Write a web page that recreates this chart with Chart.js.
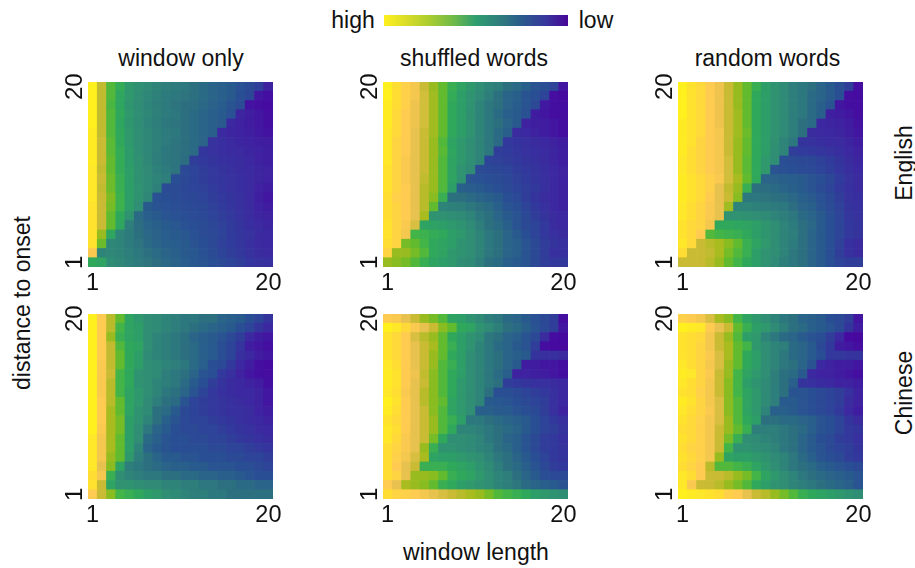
<!DOCTYPE html>
<html>
<head>
<meta charset="utf-8">
<title>heatmaps</title>
<script src="https://cdn.jsdelivr.net/npm/chart.js@4"></script>
<style>
html, body { margin: 0; padding: 0; background: #fff; }
body { width: 915px; height: 568px; position: relative; overflow: hidden; font-family: "Liberation Sans", Arial, sans-serif; color: #111; }
canvas { position: absolute; }
.txt { position: absolute; font-size: 23px; line-height: 26px; white-space: nowrap; transform: translate(-50%, -50%); }
.rot { transform: translate(-50%, -50%) rotate(-90deg); }
#bar { position: absolute; left: 384px; top: 15px; width: 184px; height: 11px; }
</style>
</head>
<body>
<div class="txt" style="left:353px;top:20px">high</div>
<div id="bar"></div>
<div class="txt" style="left:596px;top:20px">low</div>
<div class="txt" style="left:181px;top:58px">window only</div>
<div class="txt" style="left:474px;top:58px">shuffled words</div>
<div class="txt" style="left:767.5px;top:58px">random words</div>
<div class="txt rot" style="left:904px;top:163px">English</div>
<div class="txt rot" style="left:904px;top:393px">Chinese</div>
<div class="txt rot" style="left:22px;top:303px">distance to onset</div>
<div class="txt" style="left:476px;top:552px">window length</div>
<script>
// rows run from distance 20 (top) down to distance 1, columns are window length 1..20
const tickValues = [1, 20];
const englishWindow = [
[100,83,70,65,58,55,52,50,48,47,46,44,42,40,38,36,33,30,26,14],
[100,83,70,63,58,54,51,49,47,46,45,44,42,40,38,36,32,29,10,8],
[100,83,69,63,57,53,50,48,47,45,44,43,41,39,37,34,31,9,7,5],
[100,83,70,64,58,54,51,49,47,46,44,42,40,38,36,33,15,13,10,7],
[100,83,70,63,57,53,50,48,46,45,44,42,40,38,36,16,14,12,10,8],
[99,83,70,64,58,54,51,49,47,46,44,42,40,38,17,15,14,13,11,9],
[99,84,71,64,58,54,51,49,47,45,44,42,40,21,19,17,15,14,13,12],
[99,84,71,65,59,54,51,48,46,45,44,42,23,21,19,18,17,15,14,13],
[99,84,72,65,59,55,51,48,46,45,43,26,24,22,20,19,18,16,14,13],
[98,83,72,65,60,55,52,49,47,45,30,28,26,24,22,20,18,17,15,14],
[98,84,73,66,60,55,52,50,48,32,30,28,26,24,23,21,19,17,15,14],
[98,83,73,66,60,56,52,49,31,31,29,28,27,25,23,21,19,17,14,12],
[98,84,75,67,60,56,51,33,32,31,30,29,28,26,24,22,20,17,13,10],
[97,84,74,67,60,54,36,34,33,32,31,30,29,27,25,23,20,18,14,12],
[97,84,72,64,56,42,38,36,34,33,32,31,30,28,26,24,21,18,15,14],
[97,84,72,63,48,43,40,38,36,35,33,32,31,29,27,25,22,19,17,15],
[97,78,63,50,47,44,41,39,37,36,35,33,31,30,28,25,23,21,18,16],
[97,73,51,50,47,45,42,40,38,37,36,34,32,30,27,25,23,20,17,16],
[91,50,51,50,48,46,44,42,40,38,36,35,33,31,28,26,24,21,18,17],
[64,62,53,51,49,47,45,43,41,39,37,35,34,32,30,28,26,23,21,20]
];
const englishShuffled = [
[100,96,93,90,84,78,72,66,62,58,54,50,48,44,42,38,34,32,28,10],
[100,96,93,90,85,79,72,65,60,56,52,48,44,40,38,34,32,28,6,4],
[99,96,93,89,85,79,72,64,60,56,50,46,44,40,37,34,30,11,8,6],
[99,95,92,89,85,79,72,64,60,55,50,46,42,38,36,33,12,10,8,6],
[99,95,92,89,85,79,72,64,60,56,50,46,44,40,36,14,13,12,10,8],
[98,95,92,88,84,79,72,64,60,56,50,46,42,38,18,16,14,12,10,8],
[98,94,92,88,84,78,70,62,58,54,50,46,42,24,22,20,18,16,14,12],
[98,94,92,88,84,78,71,63,58,54,50,46,26,25,23,21,19,17,15,13],
[98,94,91,88,84,78,70,62,58,54,50,28,27,26,24,22,20,18,15,13],
[97,94,91,88,84,78,70,62,56,52,31,30,29,28,26,24,22,19,16,14],
[97,94,91,88,83,78,70,62,56,34,33,32,31,29,27,25,22,20,16,14],
[97,94,92,88,82,78,70,60,38,37,36,34,32,30,28,26,24,20,16,14],
[96,93,92,88,82,76,66,44,44,42,40,38,36,32,30,26,22,18,16,14],
[96,94,92,88,82,72,50,49,48,46,44,42,38,34,32,28,24,20,16,14],
[96,94,92,88,80,56,55,54,52,50,46,44,40,36,34,30,26,22,18,16],
[97,94,91,86,62,61,60,58,56,52,48,44,42,38,34,30,28,24,18,16],
[97,94,90,68,67,65,64,60,58,54,50,46,44,40,36,32,28,24,20,18],
[96,94,74,72,68,64,62,60,56,54,50,46,44,40,38,34,30,26,22,20],
[94,78,78,74,70,64,62,58,56,54,50,46,44,40,38,34,30,26,20,20],
[78,76,74,70,66,62,60,58,54,52,48,44,42,38,36,34,30,26,24,24]
];
const englishRandom = [
[100,97,95,92,89,84,78,72,66,60,56,52,48,46,44,40,36,32,26,6],
[100,97,95,92,89,84,78,72,64,60,56,52,48,46,42,40,36,32,6,5],
[100,97,95,92,89,84,78,72,64,60,56,52,48,46,42,38,34,10,8,6],
[100,97,95,92,89,84,79,72,64,60,56,52,48,46,42,38,13,12,10,7],
[99,97,95,92,89,84,79,72,64,60,56,52,48,44,42,16,15,14,12,9],
[99,97,95,92,90,84,79,73,64,60,56,52,48,44,18,17,16,15,13,10],
[99,97,94,92,90,84,78,72,64,60,55,50,46,22,21,19,18,17,15,12],
[99,96,94,92,90,84,78,72,64,60,54,50,26,25,24,23,21,19,16,14],
[98,96,94,92,90,85,78,71,64,58,54,32,31,30,29,27,25,22,18,15],
[98,96,94,92,90,85,78,71,64,58,34,33,32,31,30,28,26,23,19,16],
[99,97,95,93,91,85,80,72,64,40,39,38,37,36,34,32,29,25,21,18],
[99,97,95,93,88,83,78,66,44,43,42,40,38,36,34,31,28,24,20,18],
[99,97,95,92,88,84,76,46,46,45,44,43,41,38,36,33,30,26,21,19],
[98,96,94,91,88,79,50,50,49,48,47,46,43,40,38,34,31,27,22,20],
[98,96,94,91,88,56,56,55,54,52,50,48,46,42,40,36,32,28,23,21],
[97,95,94,90,64,64,63,62,60,57,54,50,47,44,41,36,32,28,24,22],
[97,95,92,70,68,67,66,64,60,57,54,50,48,44,40,36,32,28,24,22],
[98,95,84,82,80,76,72,66,62,58,54,50,47,44,40,36,32,27,20,18],
[96,84,84,83,80,74,70,66,60,56,54,50,46,44,40,36,32,26,20,18],
[84,84,84,82,78,72,68,64,60,56,52,48,46,44,40,36,32,28,26,26]
];
const chineseWindow = [
[100,92,82,72,62,58,54,52,50,48,46,46,44,44,40,38,36,32,28,22],
[100,92,82,68,62,60,54,52,50,48,46,44,42,40,38,36,32,28,22,16],
[100,92,78,66,62,60,54,50,48,46,44,40,38,36,34,30,26,16,12,10],
[100,92,83,70,64,62,54,50,48,46,44,42,38,36,32,28,22,12,10,8],
[100,92,83,72,64,60,52,50,48,46,44,42,38,36,32,28,20,16,12,10],
[100,91,83,72,64,60,54,52,50,48,46,42,38,32,30,24,16,12,8,4],
[100,91,84,68,64,56,54,52,48,46,44,40,34,32,24,20,14,10,8,6],
[100,91,82,68,64,56,54,50,48,46,42,36,32,26,22,18,16,14,12,8],
[100,91,82,68,62,58,54,50,46,44,40,34,28,24,20,18,16,16,14,10],
[100,92,82,72,62,58,52,48,44,42,34,28,26,24,22,20,18,16,14,10],
[100,92,80,72,62,56,52,44,42,36,30,28,26,24,22,20,20,18,14,12],
[100,92,80,74,60,56,50,44,38,34,30,28,28,26,24,22,20,18,16,14],
[100,91,80,74,60,54,46,40,36,32,30,30,28,28,26,24,22,20,18,16],
[98,90,80,72,60,54,42,38,34,32,32,30,30,28,28,26,24,22,20,18],
[98,90,80,72,60,50,40,36,34,32,32,32,32,30,30,28,28,26,24,22],
[98,90,78,72,58,48,44,40,36,36,34,34,32,32,32,30,30,28,28,26],
[98,88,76,62,48,46,44,42,40,38,38,36,36,34,34,34,32,32,30,28],
[96,90,66,54,50,48,46,46,44,44,42,42,40,40,38,38,36,34,32,32],
[97,84,62,56,56,54,52,52,50,50,48,48,46,46,44,44,42,42,40,40],
[92,84,76,68,66,64,60,58,54,52,50,48,48,46,46,44,44,44,44,44]
];
const chineseShuffled = [
[92,91,88,84,78,74,70,62,60,56,52,48,46,42,40,36,33,30,26,8],
[100,98,95,91,88,84,76,72,64,62,56,52,48,44,42,38,34,30,26,10],
[97,95,92,86,82,78,72,64,60,56,52,46,44,40,38,34,30,18,6,4],
[97,95,92,88,84,80,72,66,60,56,50,46,42,40,36,34,26,6,4,3],
[97,95,92,88,84,78,72,64,60,54,50,46,44,40,38,36,22,20,20,18],
[98,96,92,88,84,78,70,66,60,54,50,46,44,40,36,12,12,10,10,8],
[99,97,92,89,83,76,70,64,60,54,50,46,42,38,14,14,13,12,10,8],
[99,97,92,88,84,76,70,64,58,54,50,46,44,26,24,22,20,20,18,16],
[98,96,91,88,82,76,70,64,58,54,50,44,32,32,30,28,26,24,20,16],
[100,97,92,88,82,76,72,62,58,54,50,36,35,34,32,30,28,26,20,16],
[99,96,92,88,84,76,70,62,58,54,38,38,36,36,34,32,30,26,20,14],
[97,95,92,88,84,78,70,66,60,46,46,44,42,40,38,36,32,28,24,20],
[98,96,92,88,84,78,70,64,50,50,48,46,44,42,40,36,32,28,26,22],
[98,95,91,88,84,74,64,54,54,52,50,46,44,40,38,34,30,26,24,20],
[96,94,91,88,78,66,56,56,54,52,50,48,44,42,38,34,30,26,24,22],
[96,93,90,86,80,62,60,60,58,56,54,50,46,44,40,36,32,28,24,22],
[96,92,88,84,66,66,66,64,62,60,56,52,48,44,42,38,34,30,26,24],
[96,94,88,78,78,76,72,66,64,62,58,54,50,48,44,40,36,32,30,30],
[92,88,80,78,76,72,66,64,60,58,56,54,50,48,46,42,40,38,36,34],
[96,94,93,92,90,88,86,84,82,80,78,74,70,68,66,64,60,58,56,54]
];
const chineseRandom = [
[93,92,90,86,80,76,68,62,58,54,50,46,44,40,38,36,32,30,26,10],
[100,99,98,92,88,84,72,66,60,58,52,48,44,42,38,36,34,30,22,12],
[97,96,95,90,84,78,70,60,58,50,46,42,40,36,34,32,26,16,4,2],
[97,96,94,90,84,80,72,68,58,54,50,48,42,40,36,30,24,12,10,6],
[97,96,94,91,86,80,72,64,60,54,50,46,42,40,36,32,24,24,22,22],
[98,96,94,90,86,78,72,64,60,54,50,46,44,40,34,16,14,12,12,10],
[99,98,94,91,84,78,68,62,58,54,48,44,42,36,16,14,14,12,10,8],
[98,96,94,90,84,76,68,60,56,52,48,44,38,22,20,18,16,14,14,12],
[97,96,93,90,84,76,68,62,58,52,48,44,34,34,32,30,28,26,20,14],
[99,97,94,90,86,76,70,62,58,52,48,36,36,34,32,30,28,26,18,14],
[98,96,94,91,86,76,70,62,58,50,38,38,36,34,32,30,28,24,16,12],
[97,95,93,90,86,78,70,64,60,44,44,42,42,40,38,34,32,28,22,18],
[96,95,93,90,84,78,72,66,48,48,48,46,44,42,38,34,32,28,24,22],
[97,95,93,90,84,74,66,54,52,50,48,46,44,40,36,32,30,26,24,20],
[96,94,93,90,84,68,56,56,54,52,50,46,44,40,36,34,30,28,26,22],
[97,95,93,90,78,62,60,60,58,56,52,50,46,42,38,34,32,30,26,24],
[96,94,92,82,70,70,68,66,62,58,54,50,46,44,42,38,36,34,32,30],
[98,96,92,84,84,82,78,74,68,62,58,54,50,46,44,42,40,38,36,34],
[98,91,84,84,82,78,74,70,64,60,56,54,50,48,46,44,42,40,38,34],
[100,99,98,97,96,93,92,88,84,82,78,74,70,66,64,62,60,58,56,54]
];
const colorLevels = [0,4,8,12,16,20,24,28,32,36,40,44,48,52,56,60,64,68,72,76,80,84,88,92,96,100];
const colorValues = ['#480699','#460aa0','#440fa0','#401ca0','#3c28a0','#38309e','#32389c','#2e4498','#2a4e94','#285a8e','#2a6488','#2c7080','#2e7e7c','#2f8a76','#2f9270','#2e9e68','#2fa85c','#42b448','#62bb2e','#88bc20','#a8bc20','#c9bc34','#e8c24e','#ffcb50','#ffdd33','#fff01e'];
const legendColors = ['#fff01e','#d8dc28','#a8cc30','#70ba48','#2e9e70','#2e7e7c','#2a5a8c','#38389c','#480699'];

const panelLefts = [88.3, 383.3, 678.3];
const panelTops = [81.7, 314];
const panelSize = 185;

function hexToRgb(h) {
    return [1, 3, 5].map(function(i) { return parseInt(h.substr(i, 2), 16); });
}

function colorFor(v) {
    let i = 0;
    while (i < colorLevels.length - 2 && v > colorLevels[i + 1]) i++;
    const t = (v - colorLevels[i]) / (colorLevels[i + 1] - colorLevels[i]);
    const a = hexToRgb(colorValues[i]);
    const b = hexToRgb(colorValues[i + 1]);
    return 'rgb(' + a.map(function(c, k) { return Math.round(c + (b[k] - c) * t); }).join(',') + ')';
}

function axisOptions(isX) {
    return {
        type: 'linear',
        min: 0.5,
        max: 20.5,
        grid: { display: false },
        border: { display: false },
        afterBuildTicks: function(scale) {
            scale.ticks = tickValues.map(function(v) { return { value: v }; });
        },
        afterFit: function(scale) {
            if (isX) scale.height = 34; else scale.width = 45;
        },
        ticks: isX ? {
            color: '#111', font: { family: 'Liberation Sans', size: 23.5 }, padding: -6,
            maxRotation: 0, autoSkip: false
        } : {
            color: '#111', font: { family: 'Liberation Sans', size: 24 }, padding: -9,
            minRotation: 90, maxRotation: 90, autoSkip: false, crossAlign: 'center'
        }
    };
}

function drawPanel(matrix, left, top) {
    const canvas = document.createElement('canvas');
    const w = 45 + panelSize + 30;
    const h = 24 + panelSize + 34;
    canvas.style.left = (left - 45) + 'px';
    canvas.style.top = (top - 24) + 'px';
    canvas.width = w;
    canvas.height = h;
    document.body.appendChild(canvas);

    const points = [];
    const colors = [];
    matrix.forEach(function(row, r) {
        row.forEach(function(v, c) {
            points.push({ x: c + 1, y: 20 - r });
            colors.push(colorFor(v));
        });
    });

    new Chart(canvas.getContext('2d'), {
        type: 'scatter',
        data: {
            datasets: [{
                data: points,
                pointStyle: 'rect',
                pointRadius: panelSize / 20 / Math.SQRT2 + 0.5,
                pointBorderWidth: 0,
                pointBackgroundColor: colors,
                clip: 0
            }]
        },
        options: {
            responsive: false,
            animation: false,
            layout: { padding: { top: 24, right: 30 } },
            plugins: { legend: { display: false }, tooltip: { enabled: false } },
            scales: { x: axisOptions(true), y: axisOptions(false) }
        }
    });
}

document.getElementById('bar').style.background = 'linear-gradient(to right, ' + legendColors.join(',') + ')';

[[englishWindow, englishShuffled, englishRandom], [chineseWindow, chineseShuffled, chineseRandom]].forEach(function(panelRow, r) {
    panelRow.forEach(function(matrix, c) {
        drawPanel(matrix, panelLefts[c], panelTops[r]);
    });
});
</script>
</body>
</html>
